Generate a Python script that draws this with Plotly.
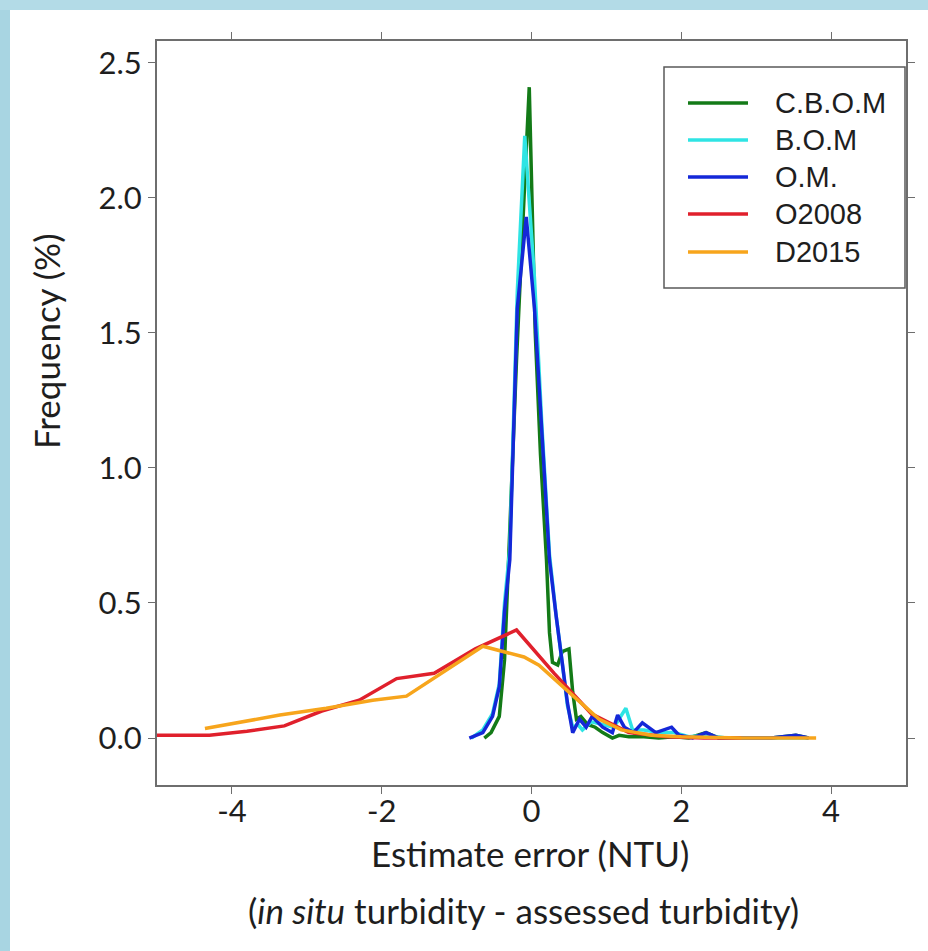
import plotly.graph_objects as go

# ---------------- data ----------------
series_names = ["C.B.O.M", "B.O.M", "O.M.", "O2008", "D2015"]
series_colors = ["#137a17", "#2fe4e4", "#1428d8", "#e0202c", "#f7a51c"]

cbom_x = [-0.63, -0.54, -0.43, -0.36, -0.30, -0.20, -0.10, -0.03, 0.05, 0.12, 0.20, 0.24, 0.28, 0.35,
          0.41, 0.50, 0.55, 0.60, 0.66, 0.75, 0.85, 0.95, 1.08, 1.17, 1.30, 1.50, 1.70, 1.90, 2.10,
          2.33, 2.50, 2.80, 3.20, 3.53, 3.70]
cbom_y = [0.0, 0.02, 0.08, 0.29, 0.70, 1.40, 2.00, 2.41, 1.50, 1.05, 0.66, 0.39, 0.28, 0.27,
          0.32, 0.33, 0.17, 0.07, 0.08, 0.05, 0.04, 0.02, 0.0, 0.01, 0.005, 0.005, 0.0, 0.005, 0.0,
          0.02, 0.0, 0.0, 0.0, 0.01, 0.0]

bom_x = [-0.80, -0.65, -0.52, -0.43, -0.36, -0.29, -0.19, -0.09, 0.04, 0.14, 0.24, 0.33, 0.41, 0.48,
         0.55, 0.62, 0.68, 0.80, 0.95, 1.10, 1.26, 1.35, 1.50, 1.70, 1.90, 2.10, 2.33, 2.60, 3.00,
         3.50, 3.70]
bom_y = [0.0, 0.03, 0.09, 0.20, 0.50, 0.70, 1.65, 2.23, 1.70, 1.15, 0.68, 0.45, 0.28, 0.12,
         0.04, 0.05, 0.03, 0.06, 0.05, 0.04, 0.11, 0.03, 0.03, 0.02, 0.02, 0.005, 0.01, 0.0, 0.0,
         0.0, 0.0]

om_x = [-0.83, -0.65, -0.52, -0.43, -0.36, -0.29, -0.19, -0.07, 0.04, 0.14, 0.24, 0.33, 0.41, 0.48,
        0.55, 0.64, 0.73, 0.81, 0.95, 1.08, 1.15, 1.24, 1.36, 1.48, 1.66, 1.87, 1.97, 2.15, 2.33,
        2.50, 2.80, 3.20, 3.53, 3.70]
om_y = [0.0, 0.02, 0.08, 0.19, 0.47, 0.66, 1.59, 1.93, 1.59, 1.10, 0.66, 0.45, 0.29, 0.13,
        0.02, 0.07, 0.04, 0.08, 0.04, 0.02, 0.085, 0.04, 0.02, 0.056, 0.02, 0.04, 0.01, 0.0, 0.02,
        0.0, 0.0, 0.0, 0.01, 0.0]

o2008_x = [-5.0, -4.3, -3.8, -3.3, -2.8, -2.3, -1.8, -1.3, -0.75, -0.2, 0.3, 0.8, 1.3, 1.8, 2.3, 2.8]
o2008_y = [0.01, 0.01, 0.025, 0.045, 0.10, 0.14, 0.22, 0.24, 0.33, 0.40, 0.24, 0.09, 0.02, 0.005, 0.0, 0.0]

d2015_x = [-4.36, -3.36, -2.74, -2.12, -1.67, -0.65, -0.10, 0.10, 0.50, 0.90, 1.20, 1.60, 2.00, 2.80, 3.80]
d2015_y = [0.035, 0.085, 0.11, 0.14, 0.155, 0.34, 0.30, 0.27, 0.17, 0.07, 0.03, 0.01, 0.005, 0.0, 0.0]

x_tickvals = [-4, -2, 0, 2, 4]
x_ticktext = ["-4", "-2", "0", "2", "4"]
y_tickvals = [0.0, 0.5, 1.0, 1.5, 2.0, 2.5]
y_ticktext = ["0.0", "0.5", "1.0", "1.5", "2.0", "2.5"]

x_title = "Estimate error (NTU)"
x_subtitle = "(<i>in situ</i> turbidity - assessed turbidity)"
y_title = "Frequency (%)"

series_x = [cbom_x, bom_x, om_x, o2008_x, d2015_x]
series_y = [cbom_y, bom_y, om_y, o2008_y, d2015_y]

# ---------------- layout geometry (pixels) ----------------
W, H = 928, 951
L, R, T, B = 157, 22, 41, 166
PW, PH = W - L - R, H - T - B


def px2x(px):
    return (px - L) / PW


def px2y(py):
    return (H - B - py) / PH


TICK_FONT = dict(family="Lato, Open Sans, sans-serif", size=31, color="#1e1e1e")
TITLE_FONT = dict(family="Lato, Open Sans, sans-serif", size=35, color="#1e1e1e")
LEG_FONT = dict(family="Liberation Sans, Arial, sans-serif", size=29, color="#1e1e1e")

fig = go.Figure()
for name, col, xs, ys in zip(series_names, series_colors, series_x, series_y):
    fig.add_trace(go.Scatter(x=xs, y=ys, mode="lines", name=name,
                             line=dict(color=col, width=3.5), showlegend=False))

shapes = []
# light blue frame strips
shapes.append(dict(type="rect", xref="paper", yref="paper", layer="below",
                   x0=px2x(0), x1=px2x(10), y0=px2y(H), y1=px2y(0),
                   fillcolor="#a8d5e2", line=dict(width=0)))
shapes.append(dict(type="rect", xref="paper", yref="paper", layer="below",
                   x0=px2x(0), x1=px2x(W), y0=px2y(10), y1=px2y(0),
                   fillcolor="#b3dbe7", line=dict(width=0)))

# custom legend
shapes.append(dict(type="rect", xref="paper", yref="paper",
                   x0=px2x(664), x1=px2x(905), y0=px2y(288), y1=px2y(67),
                   fillcolor="white", line=dict(color="#5a5a5a", width=1.5)))
annotations = []
row_y = [103, 140, 177, 214, 252]
for name, col, ry in zip(series_names, series_colors, row_y):
    shapes.append(dict(type="line", xref="paper", yref="paper",
                       x0=px2x(688), x1=px2x(748), y0=px2y(ry), y1=px2y(ry),
                       line=dict(color=col, width=3.5)))
    annotations.append(dict(text=name, xref="paper", yref="paper", x=px2x(773), y=px2y(ry),
                            xanchor="left", yanchor="middle", showarrow=False, font=LEG_FONT))

# axis titles
annotations.append(dict(text=y_title, xref="paper", yref="paper", x=px2x(46), y=px2y(341),
                        xanchor="center", yanchor="middle", textangle=-90, showarrow=False,
                        font=TITLE_FONT))
annotations.append(dict(text=x_title, xref="paper", yref="paper", x=px2x(530), y=px2y(853),
                        xanchor="center", yanchor="middle", showarrow=False, font=TITLE_FONT))
annotations.append(dict(text=x_subtitle, xref="paper", yref="paper", x=px2x(523), y=px2y(910),
                        xanchor="center", yanchor="middle", showarrow=False, font=TITLE_FONT))

axis_common = dict(showline=True, linecolor="#6e6e6e", linewidth=2, mirror="ticks",
                   ticks="outside", ticklen=7, tickwidth=1, tickcolor="#6e6e6e",
                   showgrid=False, zeroline=False, tickfont=TICK_FONT)

fig.update_layout(
    width=W, height=H,
    margin=dict(l=L, r=R, t=T, b=B, pad=0),
    paper_bgcolor="white", plot_bgcolor="white",
    showlegend=False,
    xaxis=dict(range=[-5.0, 5.0], tickvals=x_tickvals, ticktext=x_ticktext,
               ticklabelstandoff=-9, **axis_common),
    yaxis=dict(range=[-0.174, 2.581], tickvals=y_tickvals, ticktext=y_ticktext, **axis_common),
    shapes=shapes,
    annotations=annotations,
)

fig.write_html("out.html")
